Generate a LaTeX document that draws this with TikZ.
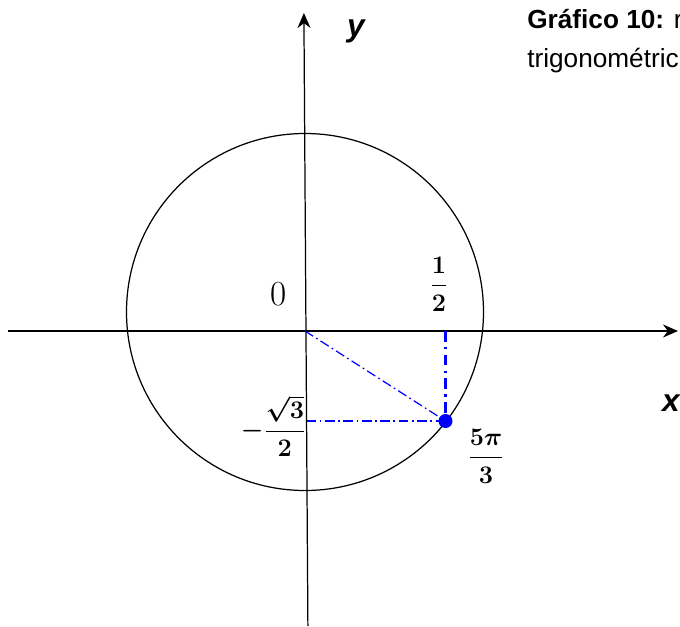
\documentclass[tikz,border=0pt]{standalone}
\usepackage{amsmath}
\usepackage{fontspec}
\newfontfamily\arialfont{Liberation Sans}
\usetikzlibrary{arrows.meta}
\tikzset{
  axis/.style={line width=0.7pt,-{Stealth[length=3mm,width=2.6mm]}},
  guide/.style={blue,line width=0.7pt,dash pattern=on 5.5pt off 2pt on 1pt off 2pt},
  fraclabel/.style={inner sep=0pt,font=\fontsize{14}{16}\selectfont\boldmath}
}
\begin{document}
\begin{tikzpicture}
\useasboundingbox (-6.1,-5.9) rectangle (7.5,6.62);
\coordinate (O) at (0,0);
\coordinate (xs) at (-5.94,0);
\coordinate (xe) at (7.46,0);
\coordinate (ys) at (0.058,-5.9);
\coordinate (ye) at (-0.022,6.36);
\coordinate (C) at (0,0.38);
\draw[axis] (xs) -- (xe);
\draw[axis] (ys) -- (ye);
\draw[line width=0.7pt] (C) circle (3.57);
\node[circle,fill=blue,inner sep=0pt,minimum size=0.28cm] (P) at (2.81,-1.80) {};
\coordinate (Px) at (2.81,0);
\coordinate (Py) at (0.03,-1.80);
\draw[guide] (O) -- (P.center);
\draw[guide] (Py) -- (P.center);
\draw[blue,line width=1.5pt,dash pattern=on 6pt off 3pt on 1.5pt off 3pt] (Px) -- (P.center);
\node[inner sep=0pt,font=\fontsize{20}{22}\selectfont] (zero) at (-0.53,0.74) {0};
\node[fraclabel] (half) at (2.68,0.94) {$\dfrac{1}{2}$};
\node[fraclabel] (sinv) at (-0.63,-1.90) {$-\dfrac{\sqrt{3}}{2}$};
\node[fraclabel] (ang) at (3.62,-2.50) {$\dfrac{5\pi}{3}$};
\node[inner sep=0pt,font=\arialfont\bfseries\itshape\fontsize{18}{20}\selectfont] (ylab) at (1.02,6.0) {y};
\node[inner sep=0pt,font=\arialfont\bfseries\itshape\fontsize{18}{20}\selectfont] (xlab) at (7.32,-1.45) {x};
\node[anchor=base west,inner sep=0pt,font=\arialfont\fontsize{14.9}{18}\selectfont] (cap1) at (4.44,6.06) {\textbf{Gráfico 10:} r};
\node[anchor=base west,inner sep=0pt,font=\arialfont\fontsize{14.9}{18}\selectfont] (cap2) at (4.44,5.28) {trigonométric};
\end{tikzpicture}
\end{document}
